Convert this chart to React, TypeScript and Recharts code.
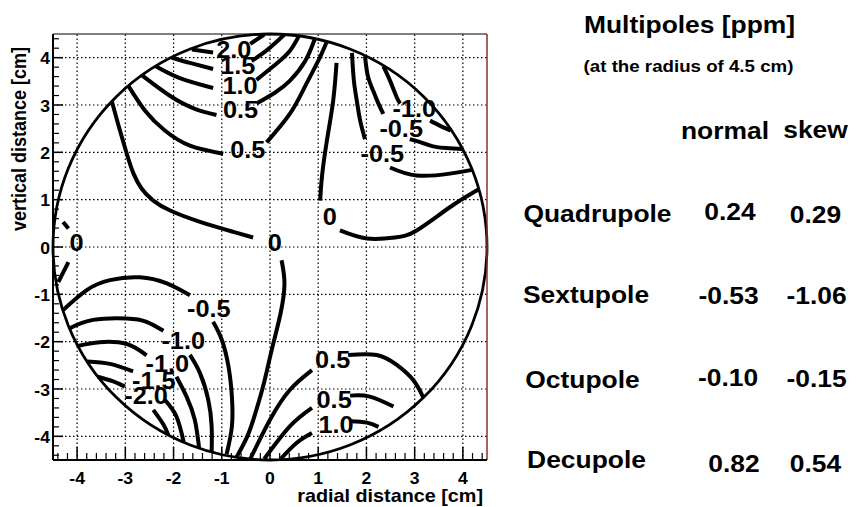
import React from 'react';
import {
  ComposedChart,
  XAxis,
  YAxis,
  Line,
  Scatter,
  ReferenceLine,
  ReferenceArea,
} from 'recharts';

type Pt = [number, number];

// Field-map contour segments (x, y in cm). Each level is drawn in two parts,
// broken where its value label sits.
const p20a: Pt[] = [[-1.62, 4.17], [-1.40, 4.14], [-1.18, 4.11]];
const p20b: Pt[] = [[-0.41, 4.29], [-0.12, 4.49]];
const p15a: Pt[] = [[-2.04, 4.0], [-1.66, 3.89], [-1.18, 3.76]];
const p15b: Pt[] = [[-0.38, 3.93], [-0.05, 4.17], [0.3, 4.49]];
const p10a: Pt[] = [[-2.37, 3.82], [-1.87, 3.57], [-1.18, 3.36]];
const p10b: Pt[] = [[-0.28, 3.53], [0.12, 3.86], [0.41, 4.14], [0.6, 4.46]];
const p05ua: Pt[] = [[-2.66, 3.63], [-2.07, 3.19], [-1.56, 2.92], [-1.11, 2.79]];
const p05ub: Pt[] = [[-0.28, 3.03], [0.1, 3.26], [0.41, 3.51], [0.73, 3.93], [0.93, 4.4]];
const p05la: Pt[] = [[-2.94, 3.41], [-2.59, 2.88], [-2.18, 2.46], [-1.66, 2.14], [-0.97, 1.97]];
const p05lb: Pt[] = [[-0.07, 2.21], [0.41, 2.81], [0.73, 3.4], [1.0, 3.93], [1.18, 4.34]];

const z0a: Pt[] = [
  [-3.28, 3.08], [-3.15, 2.6], [-2.97, 1.97], [-2.83, 1.55], [-2.66, 1.23],
  [-2.42, 0.98], [-2.07, 0.77], [-1.45, 0.53], [-0.76, 0.32], [-0.35, 0.2],
];
const z0b: Pt[] = [
  [0.24, -0.28], [0.3, -0.76], [0.22, -1.4], [0.03, -2.2], [-0.12, -2.85],
  [-0.3, -3.5], [-0.47, -4.0], [-0.7, -4.45],
];
const ztA: Pt[] = [[1.38, 3.89], [1.31, 3.09], [1.18, 2.25], [1.08, 1.51], [1.04, 0.98]];
const ztB: Pt[] = [[1.45, 0.35], [2.01, 0.18], [2.59, 0.2], [3.04, 0.35], [3.73, 0.84], [4.33, 1.22]];
const zeA: Pt[] = [[-4.29, 0.53], [-4.18, 0.39]];
const zeB: Pt[] = [[-4.18, -0.32], [-4.39, -0.74]];

const m05aA: Pt[] = [[1.7, 4.1], [1.74, 3.51], [1.8, 3.09], [1.87, 2.67], [1.97, 2.28]];
const m05aB: Pt[] = [[2.49, 1.68], [3.04, 1.51], [3.73, 1.55], [4.19, 1.63]];
const m05bA: Pt[] = [[1.97, 4.03], [2.03, 3.61], [2.14, 3.3], [2.24, 3.05], [2.35, 2.81]];
const m05bB: Pt[] = [[2.9, 2.28], [3.22, 2.18], [3.46, 2.11], [3.99, 2.07]];
const m10A: Pt[] = [[2.35, 3.82], [2.49, 3.51], [2.63, 3.16], [2.7, 3.03]];
const m10B: Pt[] = [[3.32, 2.67], [3.53, 2.56], [3.75, 2.46]];

const m05LA: Pt[] = [[-4.29, -1.33], [-3.8, -0.91], [-3.32, -0.7], [-2.7, -0.64], [-2.14, -0.77], [-1.66, -1.02]];
const m05LB: Pt[] = [[-1.18, -1.58], [-1.0, -1.96], [-0.86, -2.53], [-0.79, -3.16], [-0.79, -3.79], [-0.9, -4.38]];
const m10L1A: Pt[] = [[-4.16, -1.72], [-3.67, -1.54], [-2.97, -1.51], [-2.56, -1.58], [-2.21, -1.77]];
const m10L1B: Pt[] = [[-1.66, -2.28], [-1.45, -2.67], [-1.28, -3.23], [-1.21, -3.79], [-1.21, -4.33]];
const m10L2A: Pt[] = [[-3.99, -2.09], [-3.53, -2.01], [-2.97, -2.05], [-2.56, -2.29]];
const m10L2B: Pt[] = [[-1.94, -2.74], [-1.73, -3.16], [-1.56, -3.65], [-1.47, -4.25]];
const m15LA: Pt[] = [[-3.79, -2.42], [-3.32, -2.47], [-2.84, -2.63]];
const m15LB: Pt[] = [[-2.18, -3.23], [-1.94, -3.58], [-1.79, -4.12]];
const m20LA: Pt[] = [[-3.57, -2.74], [-3.25, -2.84], [-3.01, -2.95]];
const m20LB: Pt[] = [[-2.42, -3.44], [-2.21, -3.75], [-2.11, -3.97]];

const p05aA: Pt[] = [[0.87, -2.6], [0.41, -3.02], [0.0, -3.65], [-0.41, -4.48]];
const p05aB: Pt[] = [[1.62, -2.28], [2.21, -2.28], [2.63, -2.49], [2.97, -2.81], [3.18, -3.18]];
const p05bA: Pt[] = [[0.87, -3.4], [0.41, -3.79], [-0.12, -4.48]];
const p05bB: Pt[] = [[1.66, -3.14], [2.07, -3.16], [2.56, -3.37]];
const p10bA: Pt[] = [[0.87, -3.93], [0.55, -4.14], [0.22, -4.48]];
const p10bB: Pt[] = [[1.66, -3.68], [2.01, -3.71], [2.25, -3.8]];

const contours: { level: number; at: Pt; parts: Pt[][] }[] = [
  { level: 2.0, at: [-0.75, 4.16], parts: [p20a, p20b] },
  { level: 1.5, at: [-0.67, 3.83], parts: [p15a, p15b] },
  { level: 1.0, at: [-0.62, 3.4], parts: [p10a, p10b] },
  { level: 0.5, at: [-0.61, 2.9], parts: [p05ua, p05ub] },
  { level: 0.5, at: [-0.46, 2.04], parts: [p05la, p05lb] },
  { level: 0, at: [0.1, 0.09], parts: [z0a, z0b] },
  { level: 0, at: [1.24, 0.63], parts: [ztA, ztB] },
  { level: 0, at: [-4.01, 0.08], parts: [zeA, zeB] },
  { level: -0.5, at: [2.33, 1.97], parts: [m05aA, m05aB] },
  { level: -0.5, at: [2.72, 2.49], parts: [m05bA, m05bB] },
  { level: -1.0, at: [2.99, 2.91], parts: [m10A, m10B] },
  { level: -0.5, at: [-1.27, -1.3], parts: [m05LA, m05LB] },
  { level: -1.0, at: [-1.8, -1.98], parts: [m10L1A, m10L1B] },
  { level: -1.0, at: [-2.13, -2.47], parts: [m10L2A, m10L2B] },
  { level: -1.5, at: [-2.41, -2.83], parts: [m15LA, m15LB] },
  { level: -2.0, at: [-2.57, -3.14], parts: [m20LA, m20LB] },
  { level: 0.5, at: [1.3, -2.39], parts: [p05aA, p05aB] },
  { level: 0.5, at: [1.33, -3.23], parts: [p05bA, p05bB] },
  { level: 1.0, at: [1.37, -3.75], parts: [p10bA, p10bB] },
];

const majorTicks = [-4, -3, -2, -1, 0, 1, 2, 3, 4];
const boreRadius = 4.5;

const multipoleNames = ['Quadrupole', 'Sextupole', 'Octupole', 'Decupole'];
const normalCoeffs = [0.24, -0.53, -0.1, 0.82];
const skewCoeffs = [0.29, -1.06, -0.15, 0.54];

// text placement for the table on the right: [cx, baseline]
const rowPos: { name: Pt; normal: Pt; skew: Pt }[] = [
  { name: [597.5, 221.5], normal: [730, 220], skew: [815.5, 222.5] },
  { name: [586, 302.5], normal: [728.5, 304], skew: [816.5, 304] },
  { name: [582.5, 388], normal: [728, 386], skew: [816.5, 386.5] },
  { name: [586.5, 468], normal: [734, 471.5], skew: [815.5, 471.5] },
];

const FONT = '"Liberation Sans", Arial, Helvetica, sans-serif';
const SX = 1.1;

// 0.2 cm minor divisions between the labelled ticks
const allTicks = (() => {
  const out: number[] = [];
  for (let m = -5; m <= 4; m++) {
    for (let k = 0; k < 5; k++) {
      const v = Math.round((m + k * 0.2) * 10) / 10;
      if (v >= -4.4 && v <= 4.4) out.push(v);
    }
  }
  return out;
})();
const isMajor = (v: number) => Math.abs(v - Math.round(v)) < 1e-6;

const fmtLevel = (v: number) => (v === 0 ? '0' : v.toFixed(1));

function Txt({ x, y, size, anchor = 'middle', rotate, children }: any) {
  const t = `translate(${x},${y}) scale(${SX},1)` + (rotate ? ` rotate(${rotate})` : '');
  return (
    <text transform={t} textAnchor={anchor} fontFamily={FONT} fontWeight="bold" fontSize={size} fill="#000">
      {children}
    </text>
  );
}

function XTick({ x, y, payload }: any) {
  const v = payload.value;
  const major = isMajor(v);
  return (
    <g>
      <line x1={x} x2={x} y1={y} y2={y - (major ? 13 : 7)} stroke="#000" strokeWidth={major ? 1.5 : 1.2} />
      {major && <Txt x={x} y={y + 24} size={16}>{String(v)}</Txt>}
    </g>
  );
}

function YTick({ x, y, payload }: any) {
  const v = payload.value;
  const major = isMajor(v);
  return (
    <g>
      <line x1={x} x2={x + (major ? 10 : 6)} y1={y} y2={y} stroke="#000" strokeWidth={major ? 1.5 : 1.2} />
      {major && <Txt x={x - 3} y={y + 6.5} size={16} anchor="end">{String(v)}</Txt>}
    </g>
  );
}

const levelLabels = contours.map((c) => ({ x: c.at[0], y: c.at[1], text: fmtLevel(c.level) }));

const renderLevel = (props: any) => {
  const { cx, cy, payload } = props;
  return <Txt x={cx} y={cy + 8} size={23}>{payload.text}</Txt>;
};

const renderBore = (props: any) => {
  const { x, y, width, height } = props;
  return (
    <ellipse
      cx={x + width / 2}
      cy={y + height / 2}
      rx={width / 2}
      ry={height / 2}
      fill="none"
      stroke="#000"
      strokeWidth={2.8}
    />
  );
};

export default function App() {
  return (
    <div style={{ position: 'absolute', left: 0, top: 0, width: 864, height: 507, background: '#fff' }}>
      <ComposedChart width={864} height={507} margin={{ top: 34, right: 377, bottom: 0, left: 0 }}>
        <XAxis
          type="number"
          dataKey="x"
          domain={[-4.5, 4.5]}
          allowDataOverflow
          ticks={allTicks}
          interval={0}
          height={47}
          tickSize={0}
          tickMargin={0}
          tickLine={false}
          axisLine={{ stroke: '#000', strokeWidth: 2 }}
          tick={<XTick />}
        />
        <YAxis
          type="number"
          dataKey="y"
          domain={[-4.5, 4.5]}
          allowDataOverflow
          ticks={allTicks}
          interval={0}
          width={53}
          tickSize={0}
          tickMargin={0}
          tickLine={false}
          axisLine={{ stroke: '#000', strokeWidth: 2 }}
          tick={<YTick />}
        />
        {majorTicks.map((v) => (
          <ReferenceLine key={`gx${v}`} x={v} stroke="#000" strokeWidth={1.2} strokeDasharray="1.5 2.5" />
        ))}
        {majorTicks.map((v) => (
          <ReferenceLine key={`gy${v}`} y={v} stroke="#000" strokeWidth={1.2} strokeDasharray="1.5 2.5" />
        ))}
        <ReferenceLine y={4.5} stroke="#000" strokeWidth={1} />
        <ReferenceLine x={4.5} stroke="#86302c" strokeWidth={1.5} />
        <ReferenceArea
          x1={-boreRadius}
          x2={boreRadius}
          y1={-boreRadius}
          y2={boreRadius}
          shape={renderBore}
        />
        {contours.flatMap((c, i) =>
          c.parts.map((seg, j) => (
            <Line
              key={`c${i}-${j}`}
              data={seg.map(([x, y]) => ({ x, y }))}
              dataKey="y"
              type="natural"
              stroke="#000"
              strokeWidth={4}
              dot={false}
              activeDot={false}
              isAnimationActive={false}
            />
          ))
        )}
        <Scatter data={levelLabels} dataKey="y" shape={renderLevel} isAnimationActive={false} />
      </ComposedChart>
      <svg width={864} height={507} style={{ position: 'absolute', left: 0, top: 0, pointerEvents: 'none' }}>
        <Txt x={483} y={501.5} size={18} anchor="end">radial distance [cm]</Txt>
        <text
          transform={`translate(26,47) scale(${SX},1) rotate(-90)`}
          textAnchor="end"
          fontFamily={FONT}
          fontWeight="bold"
          fontSize={18}
        >
          vertical distance [cm]
        </text>
        <Txt x={689.5} y={33} size={24}>Multipoles [ppm]</Txt>
        <Txt x={688.5} y={72} size={17}>(at the radius of 4.5 cm)</Txt>
        <Txt x={725} y={139} size={24}>normal</Txt>
        <Txt x={815.5} y={138} size={24}>skew</Txt>
        {multipoleNames.map((name, i) => (
          <g key={name}>
            <Txt x={rowPos[i].name[0]} y={rowPos[i].name[1]} size={24}>{name}</Txt>
            <Txt x={rowPos[i].normal[0]} y={rowPos[i].normal[1]} size={24}>{normalCoeffs[i].toFixed(2)}</Txt>
            <Txt x={rowPos[i].skew[0]} y={rowPos[i].skew[1]} size={24}>{skewCoeffs[i].toFixed(2)}</Txt>
          </g>
        ))}
      </svg>
    </div>
  );
}
